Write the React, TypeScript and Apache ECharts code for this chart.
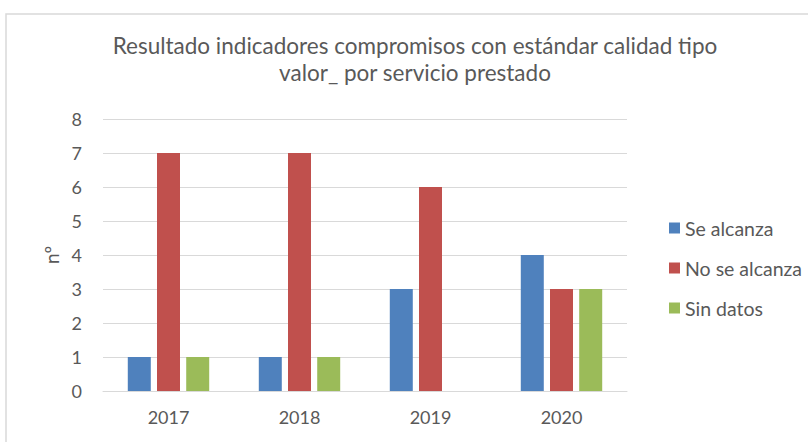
import React, { useEffect, useRef } from "react";
import * as echarts from "echarts";

const categories = ["2017", "2018", "2019", "2020"];
const seAlcanza = [1, 1, 3, 4];
const noSeAlcanza = [7, 7, 6, 3];
const sinDatos = [1, 1, null, 3];
const titleText = "Resultado indicadores compromisos con estándar calidad tipo\nvalor_ por servicio prestado";
const yAxisName = "nº";

const FONT = "Lato";
const TXT = "#595959";

export default function App() {
  const ref = useRef<HTMLDivElement>(null);
  useEffect(() => {
    if (!ref.current) return;
    const chart = echarts.init(ref.current, undefined, { renderer: "svg" });
    const barBase = {
      type: "bar" as const,
      barWidth: 23,
      barGap: "27%",
    };
    chart.setOption({
      animation: false,
      backgroundColor: "#ffffff",
      textStyle: { fontFamily: FONT },
      title: {
        text: titleText,
        left: 410,
        textAlign: "center",
        top: 27,
        textStyle: {
          fontFamily: FONT,
          fontSize: 22.5,
          fontWeight: "normal",
          color: TXT,
          lineHeight: 27,
        },
      },
      graphic: [
        {
          type: "rect",
          shape: { x: 6, y: 14, width: 820, height: 460 },
          style: { fill: "none", stroke: "#d9d9d9", lineWidth: 1.5 },
          silent: true,
        },
      ],
      legend: {
        orient: "vertical",
        left: 664,
        top: 213,
        itemWidth: 11,
        itemHeight: 11,
        itemGap: 20,
        icon: "rect",
        textStyle: { fontFamily: FONT, fontSize: 19.5, color: TXT },
        data: ["Se alcanza", "No se alcanza", "Sin datos"],
      },
      grid: { left: 103, right: 181, top: 119, bottom: 51 },
      xAxis: {
        type: "category",
        data: categories,
        axisLine: { lineStyle: { color: "#d9d9d9", width: 1 } },
        axisTick: { show: false },
        axisLabel: { fontFamily: FONT, fontSize: 18, color: TXT, margin: 17 },
      },
      yAxis: {
        type: "value",
        min: 0,
        max: 8,
        interval: 1,
        name: yAxisName,
        nameLocation: "middle",
        nameGap: 42,
        nameRotate: 90,
        nameTextStyle: { fontFamily: FONT, fontSize: 19, color: TXT },
        axisLine: { show: false },
        axisTick: { show: false },
        axisLabel: { fontFamily: FONT, fontSize: 18, color: TXT, margin: 21 },
        splitLine: { lineStyle: { color: "#d9d9d9", width: 1 } },
      },
      series: [
        { ...barBase, name: "Se alcanza", data: seAlcanza, itemStyle: { color: "#4f81bd" } },
        { ...barBase, name: "No se alcanza", data: noSeAlcanza, itemStyle: { color: "#c0504d" } },
        { ...barBase, name: "Sin datos", data: sinDatos, itemStyle: { color: "#9bbb59" } },
      ],
    });
    return () => chart.dispose();
  }, []);
  return (
    <div
      ref={ref}
      style={{ position: "fixed", left: 0, top: 0, width: 808, height: 442 }}
    />
  );
}
